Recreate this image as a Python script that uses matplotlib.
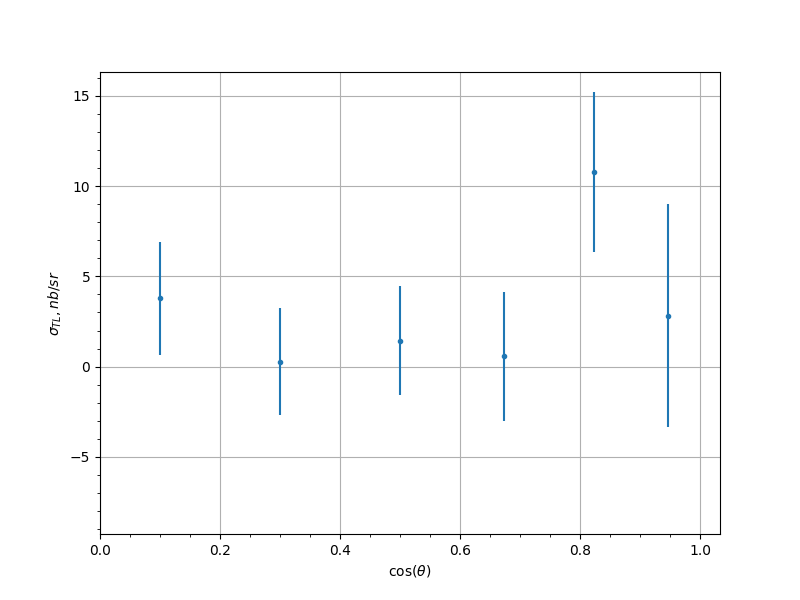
import matplotlib
matplotlib.use('Agg')
import matplotlib.pyplot as plt

# data
cos_theta = [0.1, 0.3, 0.5, 0.673, 0.823, 0.947]
sigma_tl = [3.78, 0.28, 1.44, 0.56, 10.78, 2.83]
sigma_err = [3.14, 2.95, 3.03, 3.6, 4.42, 6.17]

fig = plt.figure(figsize=(8, 6), dpi=100)
ax = plt.gca()

ax.errorbar(cos_theta, sigma_tl, yerr=sigma_err, fmt='.')

ax.set_xlabel(r'$\cos(\theta)$')
ax.set_ylabel(r'$\sigma_{TL}, nb/sr$')
ax.set_xlim(0, 1.033)
ax.set_ylim(-9.28, 16.33)
ax.minorticks_on()
ax.grid(which='major')

plt.savefig('out.png', dpi=100)
